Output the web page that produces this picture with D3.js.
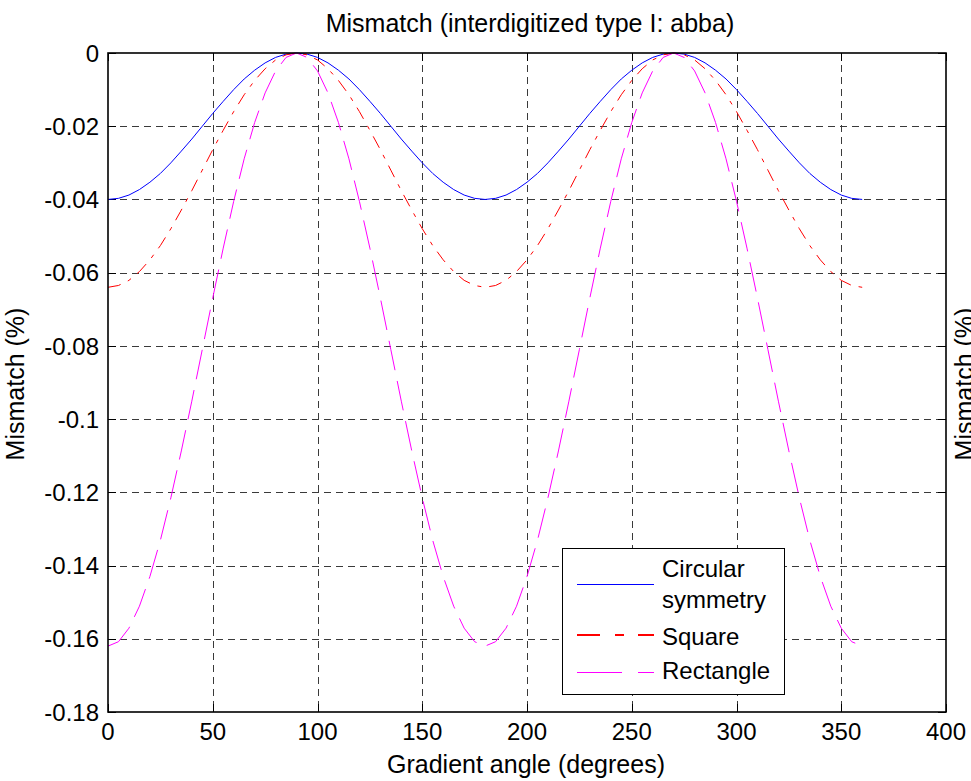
<!DOCTYPE html>
<html>
<head>
    <meta charset="UTF-8">
    <title>Mismatch (interdigitized type I: abba)</title>
    <script src="https://d3js.org/d3.v7.min.js"></script>
    <style>
        body { margin: 0; background: #fff; overflow: hidden; }
        text { font-family: "Liberation Sans", Arial, sans-serif; fill: #000; }
    </style>
</head>
<body>
    <svg id="chart"></svg>
    <script>
        // gradient angles, 0..360 in 5 degree steps
        const angles = d3.range(0, 361, 5);

        const circular = [
            -0.0400, -0.0397, -0.0388, -0.0373, -0.0353, -0.0329, -0.0300, -0.0268, -0.0235, -0.0200,
            -0.0165, -0.0132, -0.0100, -0.0071, -0.0047, -0.0027, -0.0012, -0.0003, 0.0000,
            -0.0003, -0.0012, -0.0027, -0.0047, -0.0071, -0.0100, -0.0132, -0.0165, -0.0200,
            -0.0235, -0.0268, -0.0300, -0.0329, -0.0353, -0.0373, -0.0388, -0.0397, -0.0400,
            -0.0397, -0.0388, -0.0373, -0.0353, -0.0329, -0.0300, -0.0268, -0.0235, -0.0200,
            -0.0165, -0.0132, -0.0100, -0.0071, -0.0047, -0.0027, -0.0012, -0.0003, 0.0000,
            -0.0003, -0.0012, -0.0027, -0.0047, -0.0071, -0.0100, -0.0132, -0.0165, -0.0200,
            -0.0235, -0.0268, -0.0300, -0.0329, -0.0353, -0.0373, -0.0388, -0.0397, -0.0400
        ];

        const square = [
            -0.0640, -0.0635, -0.0621, -0.0597, -0.0565, -0.0526, -0.0480, -0.0429, -0.0376, -0.0320,
            -0.0264, -0.0211, -0.0160, -0.0114, -0.0075, -0.0043, -0.0019, -0.0005, 0.0000,
            -0.0005, -0.0019, -0.0043, -0.0075, -0.0114, -0.0160, -0.0211, -0.0264, -0.0320,
            -0.0376, -0.0429, -0.0480, -0.0526, -0.0565, -0.0597, -0.0621, -0.0635, -0.0640,
            -0.0635, -0.0621, -0.0597, -0.0565, -0.0526, -0.0480, -0.0429, -0.0376, -0.0320,
            -0.0264, -0.0211, -0.0160, -0.0114, -0.0075, -0.0043, -0.0019, -0.0005, 0.0000,
            -0.0005, -0.0019, -0.0043, -0.0075, -0.0114, -0.0160, -0.0211, -0.0264, -0.0320,
            -0.0376, -0.0429, -0.0480, -0.0526, -0.0565, -0.0597, -0.0621, -0.0635, -0.0640
        ];

        const rectangle = [
            -0.1620, -0.1608, -0.1571, -0.1511, -0.1430, -0.1331, -0.1215, -0.1087, -0.0951, -0.0810,
            -0.0669, -0.0533, -0.0405, -0.0289, -0.0190, -0.0109, -0.0049, -0.0012, 0.0000,
            -0.0012, -0.0049, -0.0109, -0.0190, -0.0289, -0.0405, -0.0533, -0.0669, -0.0810,
            -0.0951, -0.1087, -0.1215, -0.1331, -0.1430, -0.1511, -0.1571, -0.1608, -0.1620,
            -0.1608, -0.1571, -0.1511, -0.1430, -0.1331, -0.1215, -0.1087, -0.0951, -0.0810,
            -0.0669, -0.0533, -0.0405, -0.0289, -0.0190, -0.0109, -0.0049, -0.0012, 0.0000,
            -0.0012, -0.0049, -0.0109, -0.0190, -0.0289, -0.0405, -0.0533, -0.0669, -0.0810,
            -0.0951, -0.1087, -0.1215, -0.1331, -0.1430, -0.1511, -0.1571, -0.1608, -0.1620
        ];

        const xTicks = [0, 50, 100, 150, 200, 250, 300, 350, 400];
        const yTicks = [0, -0.02, -0.04, -0.06, -0.08, -0.1, -0.12, -0.14, -0.16, -0.18];
        const seriesNames = ["Circular symmetry", "Square", "Rectangle"];

        const W = 971, H = 781;
        const margin = { top: 53, right: 25, bottom: 69, left: 108 };
        const w = W - margin.left - margin.right;
        const h = H - margin.top - margin.bottom;
        const fs = 24;     // tick + legend text
        const fsLab = 25;  // title and axis labels

        const svg = d3.select("#chart").attr("width", W).attr("height", H);

        const x = d3.scaleLinear().domain([0, 400]).range([margin.left, margin.left + w]);
        const y = d3.scaleLinear().domain([-0.18, 0]).range([margin.top + h, margin.top]);

        // grid
        const grid = svg.append("g").attr("stroke", "#3a3a3a").attr("stroke-width", 1)
            .attr("stroke-dasharray", "7,5");
        grid.selectAll(".gx").data(xTicks.slice(1, -1)).join("line")
            .attr("x1", d => Math.round(x(d)) + 0.5).attr("x2", d => Math.round(x(d)) + 0.5)
            .attr("y1", y(0)).attr("y2", y(-0.18));
        grid.selectAll(".gy").data(yTicks.slice(1, -1)).join("line")
            .attr("y1", d => Math.round(y(d)) + 0.5).attr("y2", d => Math.round(y(d)) + 0.5)
            .attr("x1", x(0)).attr("x2", x(400));

        // inside ticks on all four sides
        const tk = 8;
        const ticks = svg.append("g").attr("stroke", "#000").attr("stroke-width", 1);
        xTicks.forEach(d => {
            const px = Math.round(x(d)) + 0.5;
            ticks.append("line").attr("x1", px).attr("x2", px).attr("y1", y(-0.18)).attr("y2", y(-0.18) - tk);
            ticks.append("line").attr("x1", px).attr("x2", px).attr("y1", y(0)).attr("y2", y(0) + tk);
        });
        yTicks.forEach(d => {
            const py = Math.round(y(d)) + 0.5;
            ticks.append("line").attr("y1", py).attr("y2", py).attr("x1", x(0)).attr("x2", x(0) + tk);
            ticks.append("line").attr("y1", py).attr("y2", py).attr("x1", x(400)).attr("x2", x(400) - tk);
        });

        // curves
        const line = d3.line().x((d, i) => x(angles[i])).y(d => y(d));
        const styles = [
            { data: circular, color: "#0000ff", dash: null, legDash: null, legW: 1.2 },
            { data: square, color: "#ff0000", dash: "13,8,4,8", legDash: "23,15,9,14", legW: 2 },
            { data: rectangle, color: "#ff00ff", dash: "30,11", legDash: "45,16", legW: 1.2 }
        ];
        styles.forEach(s => {
            svg.append("path").datum(s.data)
                .attr("d", line)
                .attr("fill", "none")
                .attr("stroke", s.color)
                .attr("stroke-width", 1)
                .attr("stroke-dasharray", s.dash);
        });

        // box
        svg.append("rect")
            .attr("x", x(0)).attr("y", y(0))
            .attr("width", x(400) - x(0)).attr("height", y(-0.18) - y(0))
            .attr("fill", "none").attr("stroke", "#000").attr("stroke-width", 1.6);

        // tick labels
        svg.append("g").selectAll("text").data(xTicks).join("text")
            .attr("x", d => x(d)).attr("y", 740)
            .attr("text-anchor", "middle").attr("font-size", fs)
            .text(d => d);
        svg.append("g").selectAll("text").data(yTicks).join("text")
            .attr("x", 99).attr("y", d => y(d)).attr("dy", "0.36em")
            .attr("text-anchor", "end").attr("font-size", fs)
            .text(d => d === 0 ? "0" : d3.format("")(d).replace("−", "-"));

        // titles
        svg.append("text").attr("x", 530).attr("y", 32).attr("text-anchor", "middle")
            .attr("font-size", fsLab).text("Mismatch (interdigitized type I: abba)");
        svg.append("text").attr("x", 526).attr("y", 773).attr("text-anchor", "middle")
            .attr("font-size", fsLab).text("Gradient angle (degrees)");
        svg.append("text").attr("transform", "translate(24,384) rotate(-90)")
            .attr("text-anchor", "middle").attr("font-size", fsLab).text("Mismatch (%)");
        // label of the neighbouring plot, cut by the right edge as in the source image
        svg.append("text").attr("transform", "translate(973,384) rotate(-90)")
            .attr("text-anchor", "middle").attr("font-size", fsLab).text("Mismatch (%)");

        // legend
        const lg = svg.append("g");
        lg.append("rect").attr("x", 562.5).attr("y", 548.5).attr("width", 222).attr("height", 146)
            .attr("fill", "#fff").attr("stroke", "#000").attr("stroke-width", 1);
        const legY = [584.5, 635, 672.5];
        styles.forEach((s, i) => {
            lg.append("line").attr("x1", 577).attr("x2", 654)
                .attr("y1", legY[i]).attr("y2", legY[i])
                .attr("stroke", s.color).attr("stroke-width", s.legW)
                .attr("stroke-dasharray", s.legDash);
        });
        const legText = [["Circular", 577], ["symmetry", 608], [seriesNames[1], 645], [seriesNames[2], 679]];
        legText.forEach(t => {
            lg.append("text").attr("x", 662).attr("y", t[1]).attr("font-size", fs).text(t[0]);
        });
    </script>
</body>
</html>
